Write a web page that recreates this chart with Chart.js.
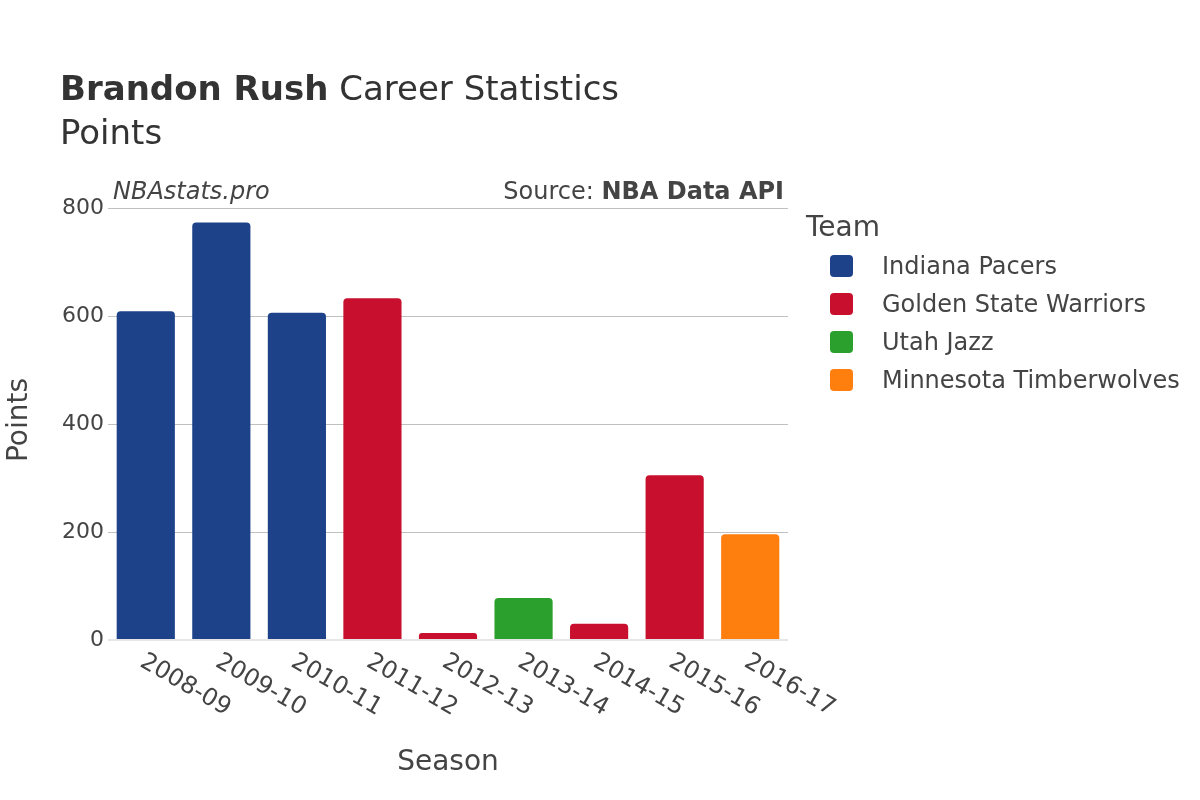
<!DOCTYPE html>
<html>
<head>
<meta charset="utf-8">
<script src="https://cdn.jsdelivr.net/npm/chart.js@4"></script>
<style>
  body { margin: 0; background: #fff; }
  canvas { display: block; }
</style>
</head>
<body>
<canvas id="pointsChart" width="1200" height="800"></canvas>
<script>
const seasons = ['2008-09', '2009-10', '2010-11', '2011-12', '2012-13', '2013-14', '2014-15', '2015-16', '2016-17'];
const points = [609, 773, 606, 633, 13, 78, 30, 305, 196];
const seasonTeam = ['Indiana Pacers', 'Indiana Pacers', 'Indiana Pacers', 'Golden State Warriors', 'Golden State Warriors',
    'Utah Jazz', 'Golden State Warriors', 'Golden State Warriors', 'Minnesota Timberwolves'];
const teams = ['Indiana Pacers', 'Golden State Warriors', 'Utah Jazz', 'Minnesota Timberwolves'];
const teamColors = ['#1d428a', '#c8102e', '#2ca02c', '#ff7f0e'];
const yTicks = [0, 200, 400, 600, 800];

const FONT = "'DejaVu Sans', sans-serif";

// one dataset per team, null where he played elsewhere
const datasets = teams.map((team, t) => ({
    label: team,
    data: points.map((p, i) => seasonTeam[i] === team ? p : null),
    backgroundColor: teamColors[t],
    borderRadius: { topLeft: 4, topRight: 4 },
    borderSkipped: 'bottom',
    barPercentage: 0.77,
    categoryPercentage: 1
}));

const textLayer = {
    id: 'textLayer',
    afterDraw(chart) {
        const ctx = chart.ctx;
        const xs = chart.scales.x;
        ctx.save();

        // title
        ctx.fillStyle = '#333';
        ctx.textAlign = 'left';
        ctx.textBaseline = 'alphabetic';
        ctx.font = `bold 34px ${FONT}`;
        ctx.fillText('Brandon Rush', 60, 100);
        const w = ctx.measureText('Brandon Rush').width;
        ctx.font = `34px ${FONT}`;
        ctx.fillText(' Career Statistics', 60 + w, 100);
        ctx.fillText('Points', 60, 144);

        // annotations
        ctx.fillStyle = '#444';
        ctx.font = `italic 24px ${FONT}`;
        ctx.fillText('NBAstats.pro', 113, 199);
        ctx.textAlign = 'right';
        ctx.font = `bold 24px ${FONT}`;
        ctx.fillText('NBA Data API', 784, 199);
        const bw = ctx.measureText('NBA Data API').width;
        ctx.font = `24px ${FONT}`;
        ctx.fillText('Source: ', 784 - bw, 199);

        // x tick labels, slanted down to the right
        ctx.font = `24px ${FONT}`;
        ctx.textAlign = 'left';
        ctx.textBaseline = 'middle';
        seasons.forEach((s, i) => {
            const x = xs.getPixelForTick(i);
            ctx.save();
            ctx.translate(x - 4, 660);
            ctx.rotate(30 * Math.PI / 180);
            ctx.fillText(s, 0, 0);
            ctx.restore();
        });

        // axis titles
        ctx.font = `28px ${FONT}`;
        ctx.textAlign = 'center';
        ctx.textBaseline = 'alphabetic';
        ctx.fillText('Season', 448, 770);
        ctx.save();
        ctx.translate(27, 420);
        ctx.rotate(-Math.PI / 2);
        ctx.fillText('Points', 0, 0);
        ctx.restore();

        // legend
        ctx.textAlign = 'left';
        ctx.font = `28px ${FONT}`;
        ctx.fillText('Team', 806, 236);
        ctx.font = `24px ${FONT}`;
        ctx.textBaseline = 'middle';
        teams.forEach((team, t) => {
            const y = 266 + t * 38;
            ctx.fillStyle = teamColors[t];
            ctx.beginPath();
            ctx.roundRect(830, y - 11, 23, 22, 4);
            ctx.fill();
            ctx.fillStyle = '#444';
            ctx.fillText(team, 882, y + 2);
        });

        ctx.restore();
    }
};

new Chart(document.getElementById('pointsChart'), {
    type: 'bar',
    data: { labels: seasons, datasets: datasets },
    options: {
        responsive: false,
        animation: false,
        layout: { padding: { left: 0, right: 412, top: 208, bottom: 0 } },
        plugins: {
            legend: { display: false },
            title: { display: false },
            tooltip: { enabled: false }
        },
        scales: {
            x: {
                stacked: true,
                grid: { display: false },
                border: { display: false },
                ticks: { display: false },
                afterFit: s => { s.height = 160; }
            },
            y: {
                stacked: true,
                min: 0,
                max: 800,
                afterBuildTicks: s => { s.ticks = yTicks.map(v => ({ value: v })); },
                afterFit: s => { s.width = 108; },
                border: { display: false },
                grid: {
                    drawTicks: false,
                    color: c => c.tick && c.tick.value === 0 ? '#e6e6e6' : '#c0c0c0',
                    lineWidth: c => c.tick && c.tick.value === 0 ? 2 : 1
                },
                ticks: {
                    padding: 4,
                    color: '#444',
                    font: { family: FONT, size: 22 }
                }
            }
        }
    },
    plugins: [textLayer]
});
</script>
</body>
</html>
